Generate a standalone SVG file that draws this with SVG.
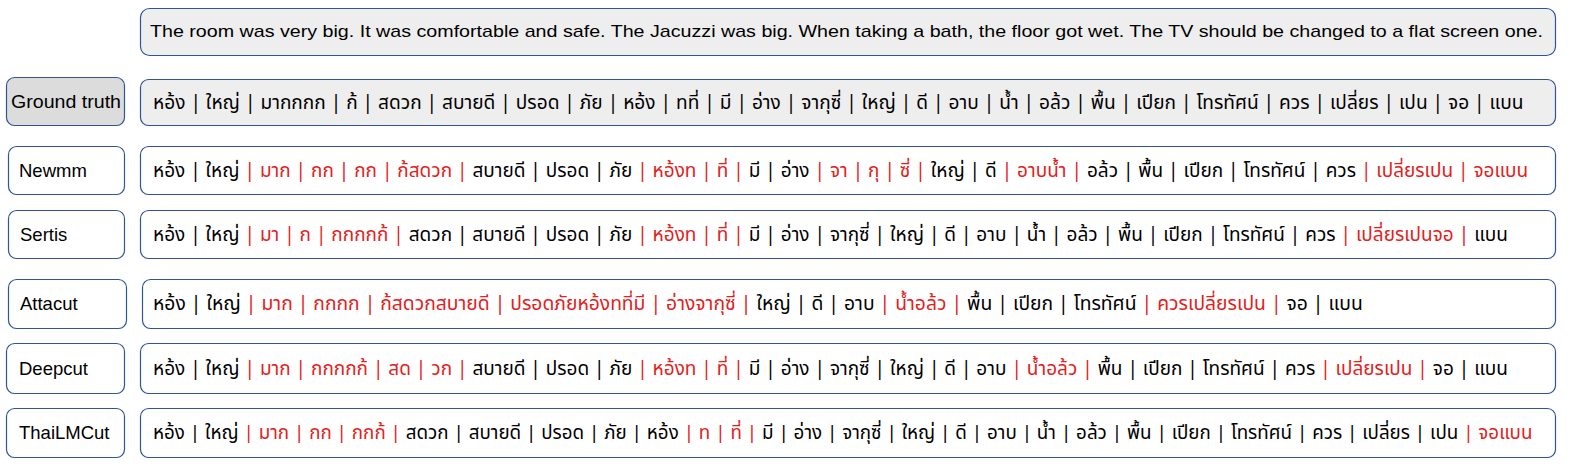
<svg xmlns="http://www.w3.org/2000/svg" width="1590" height="467" viewBox="0 0 1590 467">
<style>
.box{fill:#ffffff;stroke:#2f5597;stroke-width:1.2}
.gray{fill:#eeeeee}
.lgray{fill:#dcdcdc}
.lbl{font-family:"Liberation Sans",Arial,sans-serif;font-size:18.5px;fill:#000}
.en{font-family:"Liberation Sans",Arial,sans-serif;font-size:17px;fill:#000}
.th{font-family:"Noto Sans Thai","Noto Sans Thai UI","Loma","Garuda","Tlwg Typo","Noto Sans","DejaVu Sans",sans-serif;font-size:19px;fill:#000}
.r{fill:#e3211c}
</style>
<rect width="1590" height="467" fill="#ffffff"/>
<g id="sentence">
<rect class="box gray" x="140.5" y="8.5" width="1415" height="47" rx="9"/>
<text class="en" x="150" y="37" textLength="1393" lengthAdjust="spacingAndGlyphs">The room was very big. It was comfortable and safe. The Jacuzzi was big. When taking a bath, the floor got wet. The TV should be changed to a flat screen one.</text>
</g>
<g id="ground-truth">
<rect class="box lgray" x="6.5" y="77.5" width="118" height="48" rx="8"/>
<text class="lbl" x="11" y="108" textLength="110" lengthAdjust="spacingAndGlyphs">Ground truth</text>
<rect class="box gray" x="140.5" y="79.5" width="1415" height="46" rx="8"/>
<text class="th" x="153" y="109" style="font-size:19.1px">หอ้ง | ใหญ่ | มากกกก | ก้ | สดวก | สบายดี | ปรอด | ภัย | หอ้ง | ทที่ | มี | อ่าง | จากุซี่ | ใหญ่ | ดี | อาบ | น้ำ | อล้ว | พื้น | เปียก | โทรทัศน์ | ควร | เปลี่ยร | เปน | จอ | แบน</text>
</g>
<g id="newmm">
<rect class="box" x="8.5" y="146.5" width="116" height="48" rx="8"/>
<text class="lbl" x="19" y="177">Newmm</text>
<rect class="box" x="140.5" y="146.5" width="1415" height="48" rx="8"/>
<text class="th" x="153" y="177">หอ้ง | ใหญ่ <tspan class="r">| มาก | กก | กก | ก้สดวก |</tspan> สบายดี | ปรอด | ภัย <tspan class="r">| หอ้งท | ที่ |</tspan> มี | อ่าง <tspan class="r">| จา | กุ | ซี่ |</tspan> ใหญ่ | ดี <tspan class="r">| อาบน้ำ |</tspan> อล้ว | พื้น | เปียก | โทรทัศน์ | ควร <tspan class="r">| เปลี่ยรเปน | จอแบน</tspan></text>
</g>
<g id="sertis">
<rect class="box" x="8.5" y="210.5" width="116" height="48" rx="8"/>
<text class="lbl" x="20" y="241">Sertis</text>
<rect class="box" x="140.5" y="210.5" width="1415" height="48" rx="8"/>
<text class="th" x="153" y="241">หอ้ง | ใหญ่ <tspan class="r">| มา | ก | กกกกก้ |</tspan> สดวก | สบายดี | ปรอด | ภัย <tspan class="r">| หอ้งท | ที่ |</tspan> มี | อ่าง | จากุซี่ | ใหญ่ | ดี | อาบ | น้ำ | อล้ว | พื้น | เปียก | โทรทัศน์ | ควร <tspan class="r">| เปลี่ยรเปนจอ |</tspan> แบน</text>
</g>
<g id="attacut">
<rect class="box" x="8.5" y="279.5" width="118" height="49" rx="8"/>
<text class="lbl" x="20" y="310">Attacut</text>
<rect class="box" x="142.5" y="279.5" width="1413" height="49" rx="8"/>
<text class="th" x="153" y="310" style="font-size:19.3px">หอ้ง | ใหญ่ <tspan class="r">| มาก | กกกก | ก้สดวกสบายดี | ปรอดภัยหอ้งทที่มี | อ่างจากุซี่ |</tspan> ใหญ่ | ดี | อาบ <tspan class="r">| น้ำอล้ว |</tspan> พื้น | เปียก | โทรทัศน์ <tspan class="r">| ควรเปลี่ยรเปน |</tspan> จอ | แบน</text>
</g>
<g id="deepcut">
<rect class="box" x="6.5" y="343.5" width="118" height="50" rx="8"/>
<text class="lbl" x="19" y="375">Deepcut</text>
<rect class="box" x="140.5" y="343.5" width="1415" height="50" rx="8"/>
<text class="th" x="153" y="375">หอ้ง | ใหญ่ <tspan class="r">| มาก | กกกกก้ | สด | วก |</tspan> สบายดี | ปรอด | ภัย <tspan class="r">| หอ้งท | ที่ |</tspan> มี | อ่าง | จากุซี่ | ใหญ่ | ดี | อาบ <tspan class="r">| น้ำอล้ว |</tspan> พื้น | เปียก | โทรทัศน์ | ควร <tspan class="r">| เปลี่ยรเปน |</tspan> จอ | แบน</text>
</g>
<g id="thailmcut">
<rect class="box" x="6.5" y="408.5" width="118" height="49" rx="8"/>
<text class="lbl" x="19" y="439">ThaiLMCut</text>
<rect class="box" x="140.5" y="408.5" width="1415" height="49" rx="8"/>
<text class="th" x="153" y="439" style="font-size:18.8px">หอ้ง | ใหญ่ <tspan class="r">| มาก | กก | กกก้ |</tspan> สดวก | สบายดี | ปรอด | ภัย | หอ้ง <tspan class="r">| ท | ที่ |</tspan> มี | อ่าง | จากุซี่ | ใหญ่ | ดี | อาบ | น้ำ | อล้ว | พื้น | เปียก | โทรทัศน์ | ควร | เปลี่ยร | เปน <tspan class="r">| จอแบน</tspan></text>
</g>
</svg>
